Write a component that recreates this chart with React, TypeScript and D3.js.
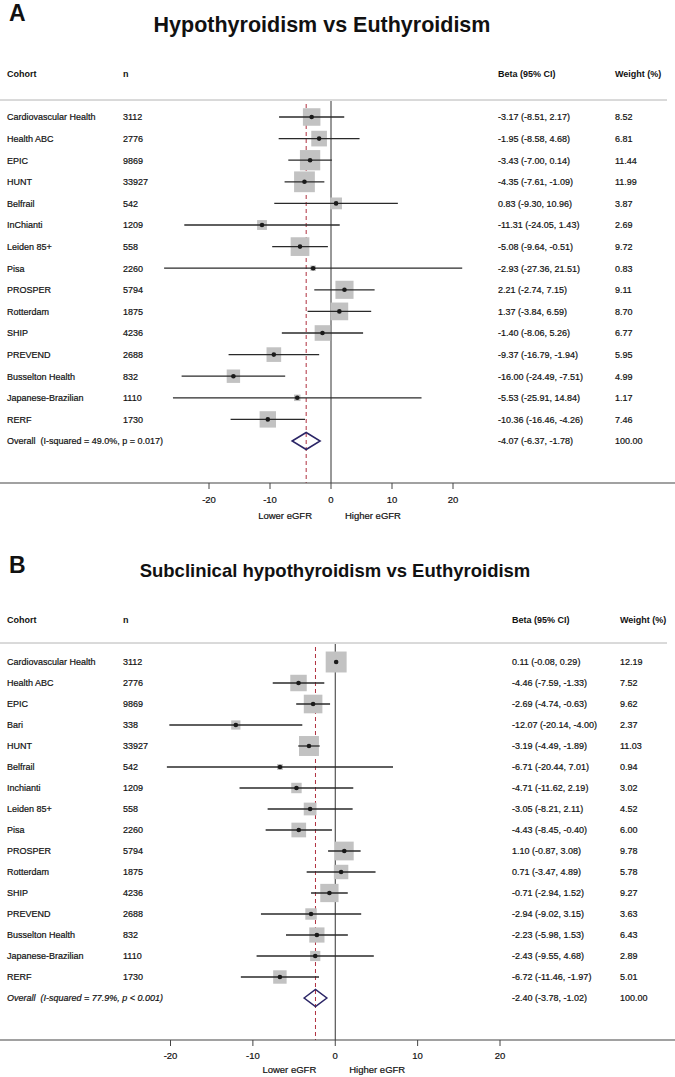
// Forest plots: thyroid status vs eGFR, two stacked panels
import React, { useRef, useEffect } from 'react';
import * as d3 from 'd3';

// Panel A: Hypothyroidism vs Euthyroidism
const hypoCohorts = [
  'Cardiovascular Health', 'Health ABC', 'EPIC', 'HUNT', 'Belfrail', 'InChianti',
  'Leiden 85+', 'Pisa', 'PROSPER', 'Rotterdam', 'SHIP', 'PREVEND',
  'Busselton Health', 'Japanese-Brazilian', 'RERF',
];
const hypoN = [3112, 2776, 9869, 33927, 542, 1209, 558, 2260, 5794, 1875, 4236, 2688, 832, 1110, 1730];
const hypoBeta = [-3.17, -1.95, -3.43, -4.35, 0.83, -11.31, -5.08, -2.93, 2.21, 1.37, -1.40, -9.37, -16.00, -5.53, -10.36];
const hypoLower = [-8.51, -8.58, -7.00, -7.61, -9.30, -24.05, -9.64, -27.36, -2.74, -3.84, -8.06, -16.79, -24.49, -25.91, -16.46];
const hypoUpper = [2.17, 4.68, 0.14, -1.09, 10.96, 1.43, -0.51, 21.51, 7.15, 6.59, 5.26, -1.94, -7.51, 14.84, -4.26];
const hypoWeight = [8.52, 6.81, 11.44, 11.99, 3.87, 2.69, 9.72, 0.83, 9.11, 8.70, 6.77, 5.95, 4.99, 1.17, 7.46];
const hypoOverall = [-4.07, -6.37, -1.78];

// Panel B: Subclinical hypothyroidism vs Euthyroidism
const subCohorts = [
  'Cardiovascular Health', 'Health ABC', 'EPIC', 'Bari', 'HUNT', 'Belfrail', 'Inchianti',
  'Leiden 85+', 'Pisa', 'PROSPER', 'Rotterdam', 'SHIP', 'PREVEND',
  'Busselton Health', 'Japanese-Brazilian', 'RERF',
];
const subN = [3112, 2776, 9869, 338, 33927, 542, 1209, 558, 2260, 5794, 1875, 4236, 2688, 832, 1110, 1730];
const subBeta = [0.11, -4.46, -2.69, -12.07, -3.19, -6.71, -4.71, -3.05, -4.43, 1.10, 0.71, -0.71, -2.94, -2.23, -2.43, -6.72];
const subLower = [-0.08, -7.59, -4.74, -20.14, -4.49, -20.44, -11.62, -8.21, -8.45, -0.87, -3.47, -2.94, -9.02, -5.98, -9.55, -11.46];
const subUpper = [0.29, -1.33, -0.63, -4.00, -1.89, 7.01, 2.19, 2.11, -0.40, 3.08, 4.89, 1.52, 3.15, 1.53, 4.68, -1.97];
const subWeight = [12.19, 7.52, 9.62, 2.37, 11.03, 0.94, 3.02, 4.52, 6.00, 9.78, 5.78, 9.27, 3.63, 6.43, 2.89, 5.01];
const subOverall = [-2.40, -3.78, -1.02];

const xTicks = [-20, -10, 0, 10, 20];

const FONT = '"Liberation Sans", Arial, Helvetica, sans-serif';
const fmt = (v: number) => v.toFixed(2);

function drawPanel(svg: any, cfg: any) {
  const g = svg.append('g');
  const x = d3.scaleLinear().domain([-20, 20]).range(cfg.xRange);
  const rowY = (i: number) => cfg.firstRow + i * cfg.rowStep;
  const nRows = cfg.cohorts.length;
  const overallY = rowY(nRows);

  const txt = (sel: any) => sel.style('font-size', '9px')
    .attr('stroke', '#111').attr('stroke-width', 0.2);

  // panel letter + title
  g.append('text').attr('x', 9).attr('y', cfg.letterY)
    .style('font-size', '23px').style('font-weight', 700).text(cfg.letter);
  g.append('text').attr('x', cfg.titleX).attr('y', cfg.titleY).attr('text-anchor', 'middle')
    .style('font-size', cfg.titleSize).style('font-weight', 700).text(cfg.title);

  // header
  const hdr = [['Cohort', 7], ['n', 123], ['Beta (95% CI)', cfg.betaX], ['Weight (%)', cfg.weightX]];
  hdr.forEach(([t, hx]) => {
    g.append('text').attr('x', hx).attr('y', cfg.headerY)
      .style('font-size', '9px').style('font-weight', 700).text(t);
  });
  g.append('line').attr('x1', 0).attr('x2', 667)
    .attr('y1', cfg.headerLine).attr('y2', cfg.headerLine)
    .attr('stroke', '#b4b4b4').attr('stroke-width', 1);

  // zero line + overall estimate line
  g.append('line').attr('x1', x(0)).attr('x2', x(0))
    .attr('y1', cfg.headerLine + 1).attr('y2', cfg.axisY)
    .attr('stroke', '#333').attr('stroke-width', 1);
  g.append('line').attr('x1', x(cfg.overall[0])).attr('x2', x(cfg.overall[0]))
    .attr('y1', cfg.headerLine + 4).attr('y2', cfg.axisY)
    .attr('stroke', '#b0303f').attr('stroke-width', 1).attr('stroke-dasharray', '4,3');

  // study rows
  cfg.cohorts.forEach((name: string, i: number) => {
    const y = rowY(i);
    const side = 6.0 * Math.sqrt(cfg.weight[i]);
    g.append('rect').attr('x', x(cfg.beta[i]) - side / 2).attr('y', y - side / 2)
      .attr('width', side).attr('height', side).attr('fill', '#c2c2c2');
    g.append('line').attr('x1', x(cfg.lower[i])).attr('x2', x(cfg.upper[i]))
      .attr('y1', y).attr('y2', y).attr('stroke', '#2a2a2a').attr('stroke-width', 1.3);
    g.append('circle').attr('cx', x(cfg.beta[i])).attr('cy', y).attr('r', 2.3).attr('fill', '#1a1a1a');

    txt(g.append('text').attr('x', 7).attr('y', y + 3.3)).text(name);
    txt(g.append('text').attr('x', 123).attr('y', y + 3.3)).text(cfg.n[i]);
    txt(g.append('text').attr('x', cfg.betaX).attr('y', y + 3.3))
      .text(`${fmt(cfg.beta[i])} (${fmt(cfg.lower[i])}, ${fmt(cfg.upper[i])})`);
    txt(g.append('text').attr('x', cfg.weightX).attr('y', y + 3.3)).text(fmt(cfg.weight[i]));
  });

  // overall diamond
  const [ob, ol, ou] = cfg.overall;
  const dh = 8.5;
  g.append('path')
    .attr('d', `M${x(ol)},${overallY}L${x(ob)},${overallY - dh}L${x(ou)},${overallY}L${x(ob)},${overallY + dh}Z`)
    .attr('fill', 'none').attr('stroke', '#2b2566').attr('stroke-width', 1.5);
  txt(g.append('text').attr('x', 7).attr('y', overallY + 3.3))
    .style('white-space', 'pre').style('font-style', cfg.italic ? 'italic' : 'normal')
    .text(cfg.overallLabel);
  txt(g.append('text').attr('x', cfg.betaX).attr('y', overallY + 3.3))
    .text(`${fmt(ob)} (${fmt(ol)}, ${fmt(ou)})`);
  txt(g.append('text').attr('x', cfg.weightX).attr('y', overallY + 3.3)).text('100.00');

  // x axis
  const ax = g.append('g').attr('transform', `translate(0, ${cfg.axisY})`);
  ax.append('line').attr('x1', 0).attr('x2', 675).attr('stroke', '#444').attr('stroke-width', 1.2);
  xTicks.forEach((t) => {
    ax.append('line').attr('x1', x(t)).attr('x2', x(t)).attr('y1', 0).attr('y2', 6)
      .attr('stroke', '#444').attr('stroke-width', 1);
    txt(ax.append('text').attr('x', x(t)).attr('y', cfg.tickLabY).attr('text-anchor', 'middle'))
      .style('font-size', '9.5px').text(t);
  });
  txt(ax.append('text').attr('x', x(0) - 19).attr('y', cfg.sideLabY).attr('text-anchor', 'end'))
    .style('font-size', '9.5px').text('Lower eGFR');
  txt(ax.append('text').attr('x', x(0) + 14).attr('y', cfg.sideLabY).attr('text-anchor', 'start'))
    .style('font-size', '9.5px').text('Higher eGFR');
}

export default function App() {
  const svgRef = useRef<SVGSVGElement>(null);

  useEffect(() => {
    if (!svgRef.current) return;
    const svg = d3.select(svgRef.current);
    svg.selectAll('*').remove();

    drawPanel(svg, {
      letter: 'A', letterY: 21,
      title: 'Hypothyroidism vs Euthyroidism', titleX: 322, titleY: 32, titleSize: '21.5px',
      headerY: 77, headerLine: 100, firstRow: 117, rowStep: 21.6, axisY: 483,
      tickLabY: 20, sideLabY: 36,
      xRange: [209, 453], betaX: 498, weightX: 615,
      cohorts: hypoCohorts, n: hypoN, beta: hypoBeta, lower: hypoLower, upper: hypoUpper,
      weight: hypoWeight, overall: hypoOverall,
      overallLabel: 'Overall  (I-squared = 49.0%, p = 0.017)', italic: false,
    });

    drawPanel(svg, {
      letter: 'B', letterY: 573,
      title: 'Subclinical hypothyroidism vs Euthyroidism', titleX: 335, titleY: 577, titleSize: '18.5px',
      headerY: 623, headerLine: 643, firstRow: 662, rowStep: 21.0, axisY: 1040,
      tickLabY: 19, sideLabY: 33,
      xRange: [170.5, 500], betaX: 512, weightX: 620,
      cohorts: subCohorts, n: subN, beta: subBeta, lower: subLower, upper: subUpper,
      weight: subWeight, overall: subOverall,
      overallLabel: 'Overall  (I-squared = 77.9%, p < 0.001)', italic: true,
    });
  }, []);

  return (
    <div>
      <style>{'body { margin: 0; }'}</style>
      <svg ref={svgRef} width={675} height={1077}
        style={{ display: 'block', fontFamily: FONT, fill: '#111', background: '#fff' }} />
    </div>
  );
}
